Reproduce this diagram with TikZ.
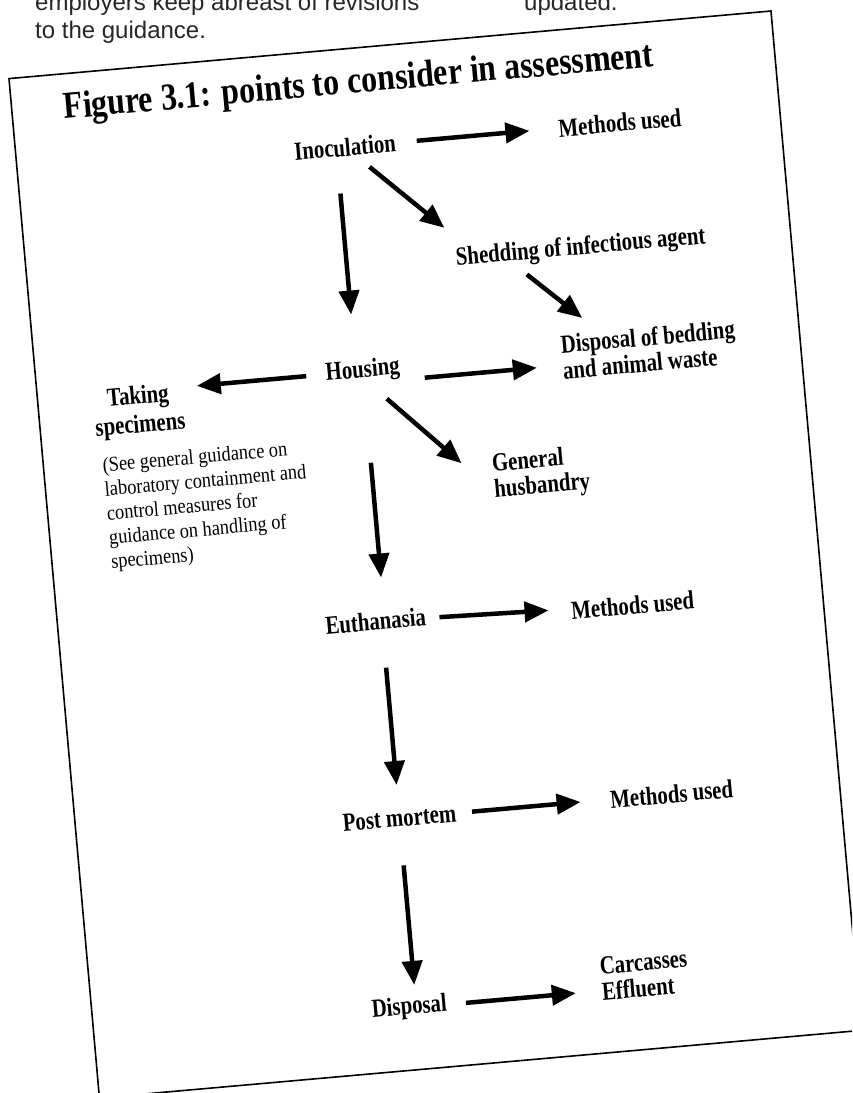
\documentclass[tikz,border=0pt]{standalone}
\usepackage{fontspec}
\setmainfont{Liberation Serif}
\newfontfamily\labfont[FakeStretch=0.8]{Liberation Serif}
\newfontfamily\ttlfont[FakeStretch=0.84]{Liberation Serif}
\newfontfamily\notefont[FakeStretch=0.875]{Liberation Serif}
\newfontfamily\reportfont{Liberation Sans}
\usetikzlibrary{arrows.meta,positioning}

\begin{document}
\begin{tikzpicture}[
  x=1pt, y=-1pt,
  lab/.style={font=\labfont\bfseries\fontsize{26}{26}\selectfont, inner sep=2pt},
  note/.style={font=\notefont\fontsize{21}{24.2}\selectfont, align=left, inner sep=2pt},
  ttl/.style={font=\ttlfont\bfseries\fontsize{38}{40}\selectfont},
  report/.style={font=\reportfont\fontsize{24}{28}\selectfont, text=black!85, inner sep=0pt, anchor=base west},
  sheet/.style={draw, line width=1.6pt, fill=white},
  arr/.style={-{Triangle[length=24pt,width=20pt]}, line width=4.5pt}
]
\useasboundingbox (0,0) rectangle (852,1093);
\clip (0,0) rectangle (852,1093);

\node[report] (rep1) at (35,10) {employers keep abreast of revisions};
\node[report] (rep2) at (35,38.5) {to the guidance.};
\node[report] (rep3) at (524,10) {updated.};

% the tilted sheet with the figure
\begin{scope}[shift={(9,78.6)}, rotate=5.07, transform shape, on grid]
\draw[sheet] (0,0) rectangle (765,1023.4);

\node[ttl] (title) at (347.7,36) {Figure 3.1: points to consider in assessment};
\node[lab] (inoc) at (328.6,98) {Inoculation};
\node[lab, right=276pt of inoc] (meth1) {Methods used};
\node[lab, below right=121.5pt and 226pt of inoc] (shed) {Shedding of infectious agent};
\node[lab, below left=224.7pt and 2pt of inoc] (housing) {Housing};
\node[lab, align=left, below right=3.6pt and 197.4pt of housing, anchor=west] (dispbed) {Disposal of bedding\\and animal waste};
\node[lab, align=center, font=\labfont\bfseries\fontsize{26}{28.5}\selectfont, below left=21pt and 226.2pt of housing] (taking) {Taking\\specimens};
\node[note, below left=39.8pt and 43.4pt of taking, anchor=north west] (guide) {(See general guidance on\\laboratory containment and\\control measures for\\guidance on handling of\\specimens)};
\node[lab, align=left, below right=118.5pt and 118.4pt of housing, anchor=west] (general) {General\\husbandry};
\node[lab, below left=250.2pt and 9.3pt of housing] (euth) {Euthanasia};
\node[lab, below right=6.9pt and 257.4pt of euth] (meth2) {Methods used};
\node[lab, below right=198.4pt and 6.4pt of euth] (pm) {Post mortem};
\node[lab, right=273.2pt of pm] (meth3) {Methods used};
\node[lab, below left=190pt and 6.9pt of pm] (disp) {Disposal};
\node[lab, align=left, above right=11.9pt and 191.2pt of disp, anchor=west] (carc) {Carcasses\\Effluent};

\draw[arr, shorten <=19pt, shorten >=27pt] (inoc) -- (meth1);
\draw[arr, shorten <=15pt, shorten >=26pt] ([xshift=12pt]inoc.south) -- ([xshift=12pt]shed.north west);
\draw[arr, shorten <=10.5pt, shorten >=18.5pt] ([xshift=-63.6pt]shed.south) -- ([xshift=39.4pt]dispbed.north west);
\draw[arr, shorten <=34.4pt, shorten >=43.3pt] ([xshift=-8.6pt]inoc.south) -- ([xshift=-6.6pt]housing.north);
\draw[arr, shorten <=17.6pt, shorten >=12.3pt] (housing.west) -- (housing.west -| taking.east);
\draw[arr, shorten <=22pt, shorten >=23.7pt] ([yshift=-12pt]housing.east) -- ([yshift=-12pt]housing.east -| dispbed.west);
\draw[arr, shorten <=21.6pt, shorten >=40.4pt] ([xshift=6.5pt]housing.south) -- ([yshift=-11pt]general.west);
\draw[arr, shorten <=77.9pt, shorten >=31.6pt] (housing.south) -- (housing.south |- euth.north);
\draw[arr, shorten <=11.5pt, shorten >=20.4pt] (euth) -- (meth2);
\draw[arr, shorten <=35.9pt, shorten >=22.4pt] (euth.south -| pm.north) -- (pm.north);
\draw[arr, shorten <=13.8pt, shorten >=27.5pt] (pm) -- (meth3);
\draw[arr, shorten <=36.6pt, shorten >=8.5pt] (pm.south) -- (pm.south |- disp.north);
\draw[arr, shorten <=17.1pt, shorten >=24pt] (disp.east) -- (disp.east -| carc.west);
\end{scope}
\end{tikzpicture}
\end{document}
